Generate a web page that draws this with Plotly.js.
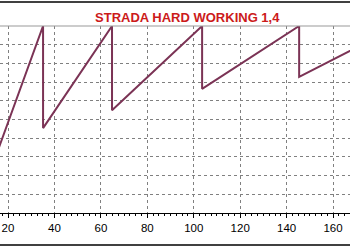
<!DOCTYPE html>
<html>
<head>
<meta charset="utf-8">
<script src="https://cdn.plot.ly/plotly-3.0.1.min.js"></script>
<style>html,body{margin:0;padding:0;background:#fff;}#chart{width:350px;height:248px;}</style>
</head>
<body>
<div id="chart"></div>
<script>
const chartTitle = "STRADA HARD WORKING 1,4";
const speedKmh = [0, 35.1, 35.1, 64.8, 64.8, 103.6, 103.6, 145.4, 145.4, 175];
const rpmValues = [0, 6000, 3270, 6000, 3750, 6000, 4320, 6000, 4640, 5580];
const xTickVals = [20, 40, 60, 80, 100, 120, 140, 160];
const xTickText = ["20", "40", "60", "80", "100", "120", "140", "160"];

const trace = {
  x: speedKmh, y: rpmValues, type: 'scatter', mode: 'lines',
  line: {color: '#7b3355', width: 2}, hoverinfo: 'skip'
};
const layout = {
  width: 350, height: 248,
  margin: {l: 0, r: 0, t: 26, b: 35, pad: 0},
  paper_bgcolor: '#ffffff', plot_bgcolor: '#ffffff',
  showlegend: false,
  title: {text: chartTitle, x: 0.535, xanchor: 'center', y: 1 - 17/248, yanchor: 'middle',
          font: {family: 'Arial, Liberation Sans, sans-serif', size: 13, color: '#cc1a1a', weight: 'bold'}},
  xaxis: {
    range: [16.55, 167.3], tickvals: xTickVals, ticktext: xTickText,
    showline: true, linecolor: '#000', linewidth: 1,
    ticks: 'outside', ticklen: 4, tickcolor: '#000', tickwidth: 1,
    showgrid: true, gridcolor: '#808080', griddash: '3px,3px', gridwidth: 1,
    zeroline: false,
    tickfont: {family: 'Arial, Liberation Sans, sans-serif', size: 11.5, color: '#000'},
    minor: {dtick: 2.5, tick0: 0, ticks: 'outside', ticklen: 2, tickcolor: '#000', showgrid: false}
  },
  yaxis: {
    range: [1000, 6000], dtick: 500, tick0: 1000, showticklabels: false,
    showline: false, ticks: '', zeroline: false,
    showgrid: true, gridcolor: '#808080', griddash: '3px,3px', gridwidth: 1
  },
  shapes: [
    {type: 'line', xref: 'paper', yref: 'paper', x0: 0, x1: 1, y0: 1, y1: 1, line: {color: '#999', width: 1}},
    {type: 'line', xref: 'paper', yref: 'paper', x0: 0, x1: 1, y0: 1 + 24/187, y1: 1 + 24/187, line: {color: '#000', width: 1.5}},
    {type: 'line', xref: 'paper', yref: 'paper', x0: 0, x1: 1, y0: -32/187, y1: -32/187, line: {color: '#000', width: 1.5}}
  ]
};
Plotly.newPlot('chart', [trace], layout, {staticPlot: true, displayModeBar: false});
</script>
</body>
</html>
